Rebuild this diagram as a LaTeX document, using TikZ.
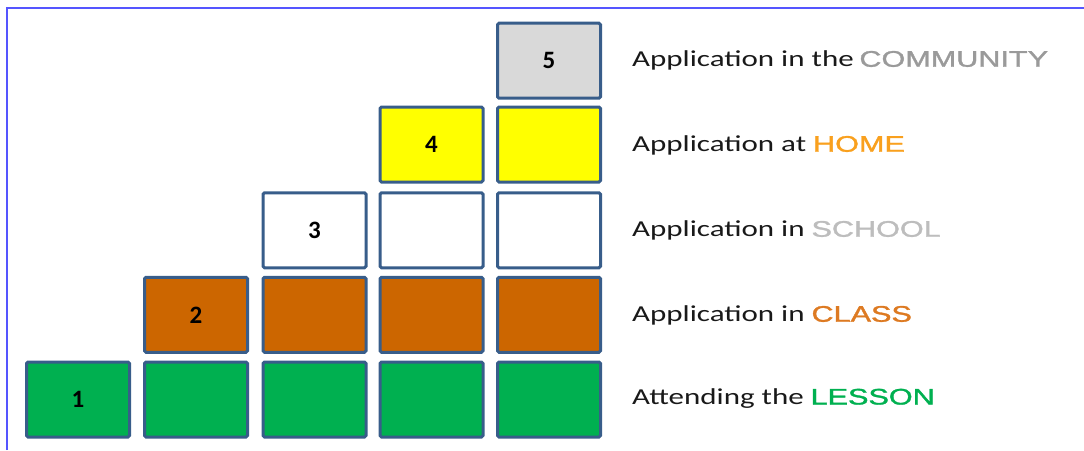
\documentclass[tikz,border=0pt]{standalone}
\usepackage{fontspec}
\usepackage{graphicx}
\setmainfont{Carlito}
\newfontfamily\capsfont[FakeBold=1.3]{Liberation Sans}
\definecolor{edgeblue}{HTML}{385D8A}
\definecolor{framblue}{HTML}{5555FF}
\definecolor{fgreen}{HTML}{00B050}
\definecolor{forange}{HTML}{CC6600}
\definecolor{fyellow}{HTML}{FFFF00}
\definecolor{fgray}{HTML}{D9D9D9}
\definecolor{wcomm}{HTML}{9A9A9A}
\definecolor{whome}{HTML}{F9A01E}
\definecolor{wschool}{HTML}{BDBDBD}
\definecolor{wclass}{HTML}{DD7A22}
\definecolor{wlesson}{HTML}{00B050}
\newcommand\capw[2]{{\capsfont\fontsize{22.5}{27}\selectfont\textcolor{#1}{#2}}}
\newcommand\lbltext[1]{\scalebox{1.36}[1]{#1}}
\begin{document}
\begin{tikzpicture}[x=1pt,y=-1pt,
  box/.style={draw=edgeblue, line width=3pt, rounded corners=1.5pt,
    minimum width=103pt, minimum height=75pt, inner sep=0pt,
    font=\bfseries\fontsize{25}{30}\selectfont},
  lbl/.style={anchor=base west, inner sep=0pt,
    font=\fontsize{22.8}{27}\selectfont, text=black!90},
  frameline/.style={draw=framblue, line width=2pt}]
\useasboundingbox (0,0) rectangle (1084,450);
\coordinate (fa) at (7,450);
\coordinate (fb) at (7,8);
\coordinate (fc) at (1084,8);
\draw[frameline] (fa) -- (fb) -- (fc);
% row 1
\node[box, fill=fgreen] (b11) at (78,399.5) {1};
\node[box, fill=fgreen] (b12) at (196,399.5) {};
\node[box, fill=fgreen] (b13) at (314.5,399.5) {};
\node[box, fill=fgreen] (b14) at (431.5,399.5) {};
\node[box, fill=fgreen] (b15) at (549,399.5) {};
% row 2
\node[box, fill=forange] (b22) at (196,314.8) {2};
\node[box, fill=forange] (b23) at (314.5,314.8) {};
\node[box, fill=forange] (b24) at (431.5,314.8) {};
\node[box, fill=forange] (b25) at (549,314.8) {};
% row 3
\node[box, fill=white] (b33) at (314.5,230.3) {3};
\node[box, fill=white] (b34) at (431.5,230.3) {};
\node[box, fill=white] (b35) at (549,230.3) {};
% row 4
\node[box, fill=fyellow] (b44) at (431.5,144.5) {4};
\node[box, fill=fyellow] (b45) at (549,144.5) {};
% row 5
\node[box, fill=fgray] (b55) at (549,60.7) {5};
% labels
\node[lbl] (l5) at (632,66.7) {\lbltext{Application in the\kern0.18em\capw{wcomm}{COMMUNITY}}};
\node[lbl] (l4) at (632,151.7) {\lbltext{Application at\kern0.22em\capw{whome}{HOME}}};
\node[lbl] (l3) at (632,236.7) {\lbltext{Application in\kern0.22em\capw{wschool}{SCHOOL}}};
\node[lbl] (l2) at (632,321.7) {\lbltext{Application in\kern0.22em\capw{wclass}{CLASS}}};
\node[lbl] (l1) at (632,404.5) {\lbltext{Attending the\kern0.22em\capw{wlesson}{LESSON}}};
\end{tikzpicture}
\end{document}
